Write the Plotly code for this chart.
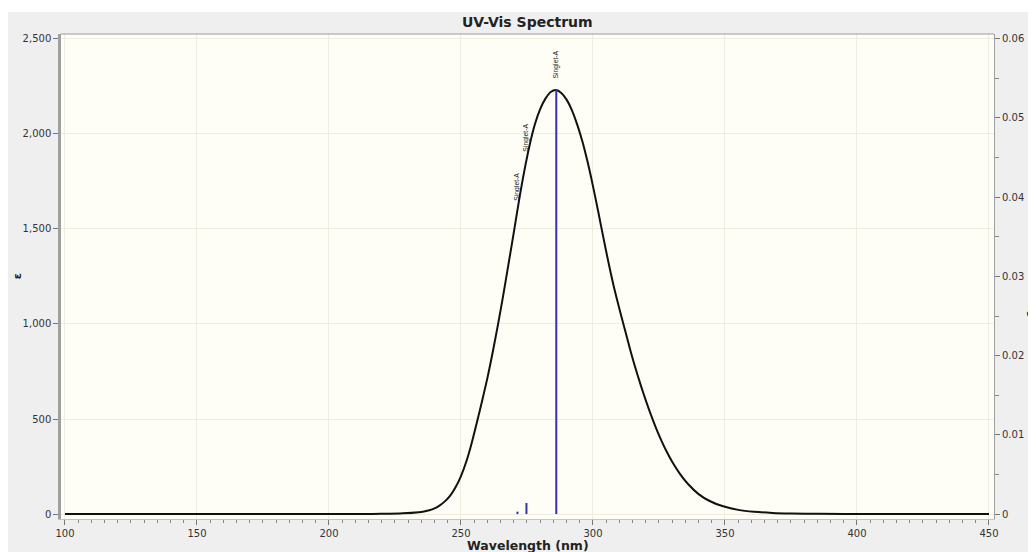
import plotly.graph_objects as go

# Spectrum (wavelength nm -> epsilon)
wl = [100, 150, 180, 200, 215, 220, 228, 234, 236, 238, 240, 242, 244, 246, 248, 250,
      252, 254, 256, 258, 260, 262, 264, 266, 268, 270, 272, 274, 276, 278, 280, 282,
      284, 286, 288, 290, 292, 294, 296, 298, 300, 302, 304, 306, 308, 310, 312, 314,
      316, 318, 320, 322, 324, 326, 328, 330, 333, 336, 340, 344, 349, 355, 361, 368,
      375, 385, 400, 450]
eps = [0, 0, 0, 0, 0, 1, 4, 10, 14, 20, 30, 46, 68, 98, 142, 200,
       275, 370, 480, 595, 715, 850, 995, 1150, 1315, 1480, 1650, 1805, 1940, 2050, 2130, 2185,
       2220, 2230, 2215, 2180, 2125, 2050, 1960, 1850, 1725, 1590, 1450, 1315, 1190, 1080, 975, 870,
       772, 682, 598, 520, 448, 384, 326, 275, 210, 158, 105, 70, 42, 22, 12, 6,
       3, 1, 0, 0]

# Transitions (oscillator strength)
stick_wl = [271.4, 274.8, 286.1]
stick_f = [0.0003, 0.0014, 0.0536]
stick_labels = ["Singlet-A", "Singlet-A", "Singlet-A"]
label_eps = [1640, 1898, 2282]

x_ticks = [100, 150, 200, 250, 300, 350, 400, 450]
y_ticks = [0, 500, 1000, 1500, 2000, 2500]
y_ticktext = ["0", "500", "1,000", "1,500", "2,000", "2,500"]
y2_ticks = [0, 0.01, 0.02, 0.03, 0.04, 0.05, 0.06]
y2_ticktext = ["0", "0.01", "0.02", "0.03", "0.04", "0.05", "0.06"]

Y_RANGE = [-26, 2525]
Y2_RANGE = [Y_RANGE[0] / 2500 * 0.06, Y_RANGE[1] / 2500 * 0.06]

FONT = "DejaVu Sans"

# figure sits at (8, 8) in the page because of the body margin
W, H = 1028, 544
L, R, T, B = 53, 35, 26, 33
PW, PH = W - L - R, H - T - B


def px(xf):
    return (xf - 8 - L) / PW


def py(yf):
    return (H - B - (yf - 8)) / PH


fig = go.Figure()

fig.add_trace(go.Scatter(
    x=wl, y=eps, mode="lines",
    line=dict(color="#111111", width=2, shape="spline", smoothing=0.8),
    showlegend=False, hoverinfo="skip"))

sx, sy = [], []
for w, f in zip(stick_wl, stick_f):
    sx += [w, w, None]
    sy += [0, f, None]
fig.add_trace(go.Scatter(
    x=sx, y=sy, mode="lines", yaxis="y2",
    line=dict(color="#3434a8", width=2),
    showlegend=False, hoverinfo="skip"))

annotations = []
for w, lab, ly in zip(stick_wl, stick_labels, label_eps):
    annotations.append(dict(
        x=w, y=ly, xref="x", yref="y", text=lab, showarrow=False,
        textangle=-90, xanchor="center", yanchor="bottom",
        font=dict(family="Liberation Sans", size=6.8, color="#1a1a1a")))

annotations.append(dict(
    x=px(531), y=py(22), xref="paper", yref="paper",
    text="<b>UV-Vis Spectrum</b>", showarrow=False, xanchor="center", yanchor="middle",
    font=dict(family=FONT, size=14, color="#222222")))
annotations.append(dict(
    x=px(531), y=py(545), xref="paper", yref="paper",
    text="<b>Wavelength (nm)</b>", showarrow=False, xanchor="center", yanchor="middle",
    font=dict(family=FONT, size=12.5, color="#222222")))
annotations.append(dict(
    x=px(17), y=py(276), xref="paper", yref="paper",
    text="<b>ε</b>", showarrow=False, textangle=-90, xanchor="center", yanchor="middle",
    font=dict(family=FONT, size=11, color="#222222")))
annotations.append(dict(
    x=px(1040), y=py(276), xref="paper", yref="paper",
    text="<b>Oscillator Strength</b>", showarrow=False, textangle=90,
    xanchor="center", yanchor="middle",
    font=dict(family=FONT, size=10, color="#222222")))

shapes = [
    # white strip at top
    dict(type="rect", xref="paper", yref="paper", layer="below",
         x0=-0.1, x1=1.1, y0=py(12), y1=1.2,
         fillcolor="white", line=dict(width=0)),
    # top frame line
    dict(type="line", xref="paper", yref="paper", x0=0, x1=1, y0=1, y1=1,
         line=dict(color="#9a9a9a", width=1)),
]

fig.update_layout(
    width=W, height=H,
    margin=dict(l=L, r=R, t=T, b=B),
    paper_bgcolor="#efefef",
    plot_bgcolor="#fefef6",
    font=dict(family=FONT, size=10, color="#333333"),
    annotations=annotations,
    shapes=shapes,
    xaxis=dict(
        range=[98.5, 451.9], tickvals=x_ticks, ticks="outside", ticklen=5,
        tickcolor="#777777", showline=True, linecolor="#c4c4c4", linewidth=1,
        showgrid=True, gridcolor="#eeeddf", gridwidth=1, zeroline=False,
        minor=dict(dtick=5, ticks="outside", ticklen=3, tickcolor="#888888", showgrid=False),
        tickfont=dict(size=10, color="#333333")),
    yaxis=dict(
        range=Y_RANGE, tickvals=y_ticks, ticktext=y_ticktext, ticks="outside", ticklen=5,
        tickcolor="#777777", showline=True, linecolor="#a0a0a0", linewidth=2.5,
        showgrid=True, gridcolor="#eeeddf", gridwidth=1, zeroline=False,
        tickfont=dict(size=10, color="#333333")),
    yaxis2=dict(
        range=Y2_RANGE, overlaying="y", side="right", tickvals=y2_ticks, ticktext=y2_ticktext,
        ticks="outside", ticklen=5, tickcolor="#777777", showline=True,
        linecolor="#a0a0a0", linewidth=1, showgrid=False, zeroline=False,
        minor=dict(dtick=0.005, ticks="outside", ticklen=4, tickcolor="#888888"),
        tickfont=dict(size=10, color="#333333")),
)

fig.write_html("out.html")
